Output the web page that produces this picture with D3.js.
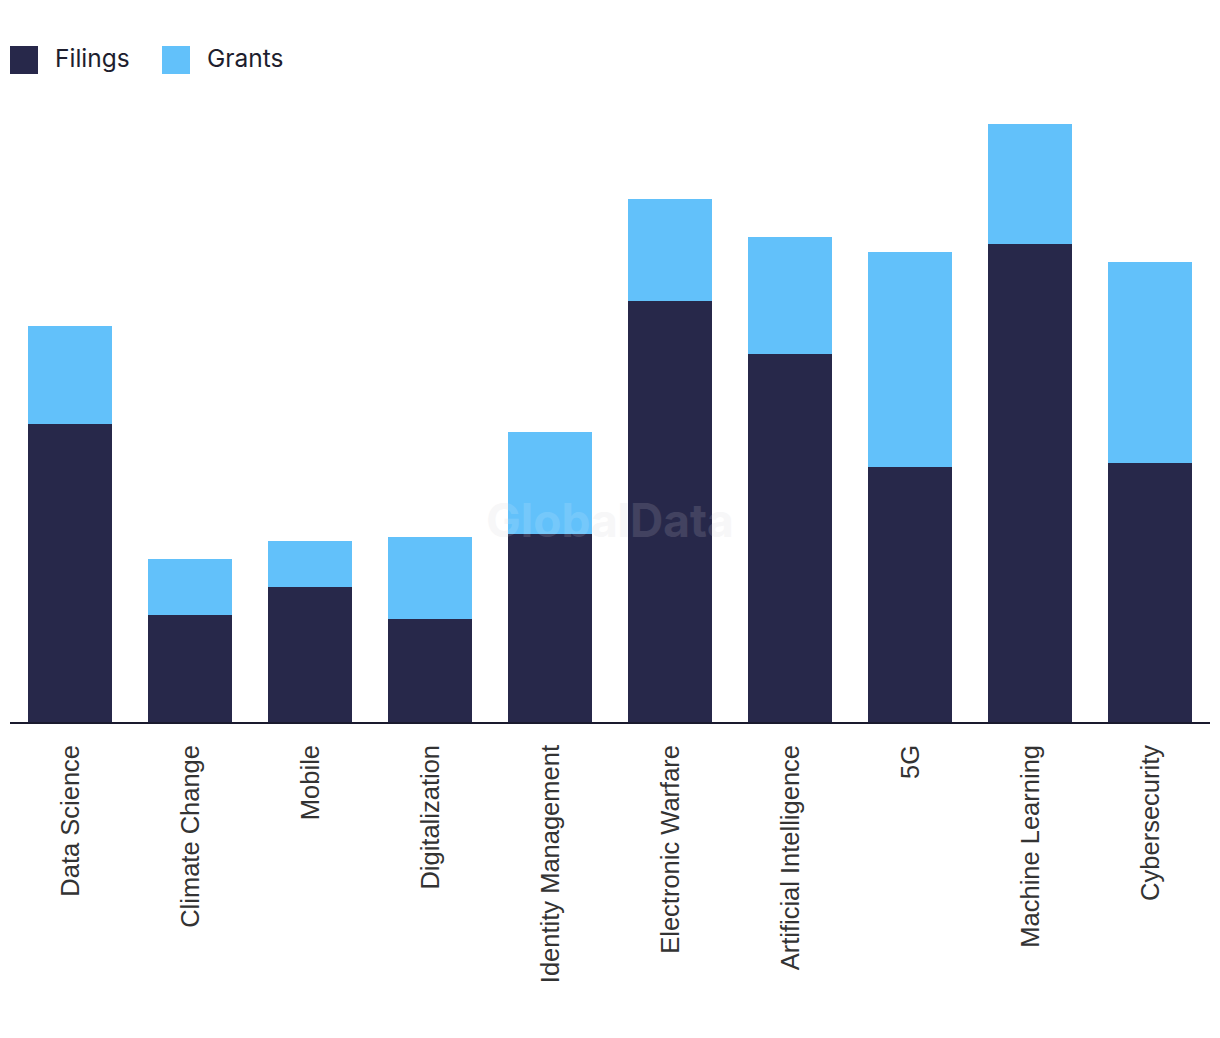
<!DOCTYPE html>
<html>
<head>
<meta charset="utf-8">
<script src="https://cdn.jsdelivr.net/npm/d3@7"></script>
<style>
  body { margin: 0; background: #fff; }
</style>
</head>
<body>
<div id="chart"></div>
<script>
const categories = ["Data Science", "Climate Change", "Mobile", "Digitalization", "Identity Management",
    "Electronic Warfare", "Artificial Intelligence", "5G", "Machine Learning", "Cybersecurity"];
const filings = [299, 108, 136, 104, 189, 422, 369, 256, 479, 260];
const grants = [98, 56, 46, 82, 102, 102, 117, 215, 120, 201];
const seriesNames = ["Filings", "Grants"];
const colors = ["#27284a", "#62c1fa"];

const width = 1220, height = 1038;
const margin = { top: 124, right: 10, bottom: 315, left: 10 };

const svg = d3.select("#chart").append("svg")
    .attr("width", width)
    .attr("height", height);

const rows = categories.map((c, i) => ({ category: c, Filings: filings[i], Grants: grants[i] }));
const stacked = d3.stack().keys(seriesNames)(rows);

const x = d3.scaleBand()
    .domain(categories)
    .range([margin.left, width - margin.right])
    .paddingInner(0.3)
    .paddingOuter(0.15);

const y = d3.scaleLinear()
    .domain([0, 599])
    .range([height - margin.bottom, margin.top]);

// watermark (behind bars)
svg.append("text")
    .attr("x", 610)
    .attr("y", 537)
    .attr("text-anchor", "middle")
    .style("font-family", "Inter, 'Open Sans', sans-serif")
    .style("font-weight", 700)
    .style("font-size", "46px")
    .attr("fill", "#e6e6ea")
    .attr("opacity", 0.35)
    .text("GlobalData");

svg.append("g")
    .selectAll("g")
    .data(stacked)
    .join("g")
    .attr("fill", (d, i) => colors[i])
    .selectAll("rect")
    .data(d => d)
    .join("rect")
    .attr("x", d => x(d.data.category))
    .attr("y", d => y(d[1]))
    .attr("width", x.bandwidth())
    .attr("height", d => y(d[0]) - y(d[1]));

// watermark overlay on bars
svg.append("text")
    .attr("x", 610)
    .attr("y", 537)
    .attr("text-anchor", "middle")
    .style("font-family", "Inter, 'Open Sans', sans-serif")
    .style("font-weight", 700)
    .style("font-size", "46px")
    .attr("fill", "#ffffff")
    .attr("opacity", 0.12)
    .text("GlobalData");

// x axis
const xAxis = svg.append("g")
    .attr("transform", `translate(0, ${y(0)})`)
    .call(d3.axisBottom(x).tickSize(0).tickPadding(0));
xAxis.select(".domain")
    .attr("d", `M${margin.left},0H${width - margin.right}`)
    .attr("stroke", "#1a1a2e")
    .attr("stroke-width", 2);
xAxis.selectAll(".tick text")
    .attr("transform", "translate(0, 22) rotate(-90)")
    .attr("text-anchor", "end")
    .attr("dy", "0.35em")
    .attr("y", 0)
    .attr("x", 0)
    .style("font-family", "'Liberation Sans', Arial, sans-serif")
    .style("font-size", "25.5px")
    .attr("fill", "#333");

// legend
const legend = svg.append("g")
    .attr("transform", "translate(10, 46)");
const item = legend.selectAll("g")
    .data(seriesNames)
    .join("g")
    .attr("transform", (d, i) => `translate(${i * 152}, 0)`);
item.append("rect")
    .attr("width", 28)
    .attr("height", 28)
    .attr("fill", (d, i) => colors[i]);
item.append("text")
    .attr("x", 45)
    .attr("y", 21)
    .style("font-family", "Inter, 'Open Sans', sans-serif")
    .style("font-size", "24.5px")
    .attr("fill", "#1e1e2e")
    .text(d => d);
</script>
</body>
</html>
